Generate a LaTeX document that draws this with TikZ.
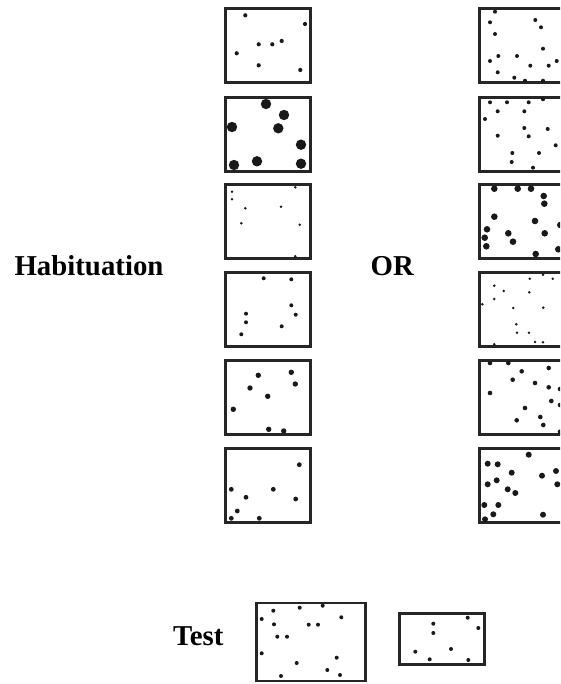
\documentclass[tikz,border=0pt]{standalone}
\usepackage{fontspec}
\setmainfont{Liberation Serif}
\usetikzlibrary{positioning}
\tikzstyle{panel} = [rectangle, draw=black!85, line width=2.8pt, inner sep=0pt, minimum width=85pt, minimum height=74pt]
\tikzstyle{heading} = [inner sep=0pt, anchor=base, font=\fontsize{28.8}{30}\selectfont\bfseries]
\newcommand\spots[2]{\foreach \p in {#2} {\fill[black!90] \p circle (#1pt);}}

\begin{document}
\begin{tikzpicture}[x=1pt,y=-1pt]
        \useasboundingbox (0,0) rectangle (560,684);
        \clip (0,0) rectangle (560,684);
        % Habituation columns ----------------------------------------------------------------------
        \foreach \i/\y in {1/45.3,2/134.5,3/221.5,4/309.5,5/397.5,6/485.5}{
            \node[panel] (hab_\i) at (267.7,\y) {};
            \node[panel] (alt_\i) at (522,\y) {};
        }
        % Labels -----------------------------------------------------------------------------------
        \node[heading] (habituation) at (89,276) {Habituation};
        \node[heading] (or) at (392.3,276) {OR};
        \node[heading] (test) at (198.3,645) {Test};
        % Test panels ------------------------------------------------------------------------------
        \node[panel, minimum width=109pt, minimum height=78pt] (test_big) at (311,642) {};
        \node[panel, minimum width=85pt, minimum height=51pt] (test_small) at (442,638.7) {};
        % Left dots --------------------------------------------------------------------------------
        \spots{2.1}{(245.3,15.3),(305,24),(258.7,44.3),(272.3,44.3),(281.7,41),(236.7,53.3),(258.7,65.3),(300.3,70)}
        \spots{5.2}{(266,104),(284,115),(232,127),(278.3,128.3),(301,144.7),(234,165),(257,161.3),(301,163.7)}
        \spots{1.4}{(232,191.7),(232,199.3),(295.3,187.3),(245.3,208.3),(281,206.7),(241.3,223.3),(299.7,224.7),(295.3,256.3)}
        \spots{2.0}{(263.7,278.3),(291.3,279.3),(291.3,305.3),(295.7,314.7),(246,313.7),(246,322.3),(281.7,326.3),(241.3,334.3)}
        \spots{2.7}{(258.3,375.3),(291.3,372.3),(250,388),(295.3,384),(267.7,396.3),(233.3,409.3),(268.7,429.3),(283.7,431)}
        \spots{2.4}{(299.3,464.7),(231.3,489.3),(273.3,489.3),(246,497.3),(295.7,499),(237.3,511),(231.3,518.3),(259.3,518.3)}
        % Right dots -------------------------------------------------------------------------------
        \spots{2.0}{(495,11.7),(490,22.3),(535.3,20),(541,27.3),(495,34),(543,48.7),(498.3,56),(517,56),(490,61),(530.3,65.7),(548.7,65.7),(556.7,61),(497.7,72.3),(514.3,77.7),(525,80.7),(543,80.7)}
        \spots{2.0}{(490,102.3),(507,102.3),(528.7,102.3),(543,99.3),(497.7,111.3),(524.3,111.3),(485,119),(524.3,128),(547.7,129),(528.7,136.3),(497.7,135.7),(555.7,145.3),(512.3,153),(539,153),(511.7,162),(533,167.7)}
        \spots{3.3}{(494.3,188.7),(517.7,188.7),(531,188.7),(543.7,196),(544.3,203.7),(494.3,216.7),(535,221),(487,229.3),(560.3,225),(484.7,237.7),(508.3,233.3),(544.7,233.3),(486.3,246.3),(513,241.7),(535.7,254),(558.3,249.3)}
        \spots{1.4}{(494.3,285.7),(529.7,278.7),(543,274.7),(552.7,278.7),(503.7,291),(529.3,292.3),(494.3,299),(482.3,304.3),(513.3,308),(543.3,307.7),(516.3,324.3),(517,332.7),(529,332.7),(535,342),(543,342.3),(494.3,344.3)}
        \spots{2.3}{(490,363),(508.3,363),(521.7,371.3),(548.7,368),(512.7,379.7),(535,383),(548.7,387.3),(490,393),(551.3,401),(525,408),(516.7,420.3),(540.3,417),(543.3,425),(560,389),(560,405),(560,431.7)}
        \spots{3.0}{(528.7,454.7),(487.7,463.7),(497.7,464.3),(511.7,472.7),(542,475.7),(556,471),(487.7,484.3),(496.7,480.3),(557.3,484.3),(507.7,489.3),(515.3,493),(484.3,505),(498.3,505),(493.3,514.3),(485,519.3),(543,514.7)}
        % Test dots --------------------------------------------------------------------------------
        \spots{2.0}{(273.3,610.7),(299.7,607.7),(322.7,605.7),(261.7,619),(341.3,617.3),(274,624.3),(308.7,624.7),(318,624.7),(277.3,636.7),(287,636.7),(261.7,653.3),(296.7,663),(336.7,657.7),(327.3,670),(340,675),(281,676)}
        \spots{2.0}{(433.3,623.7),(433.3,633),(467.7,617.7),(478.3,628),(415.3,651.7),(451,649),(429.7,659.3),(468.3,660)}
    \end{tikzpicture}
\end{document}
